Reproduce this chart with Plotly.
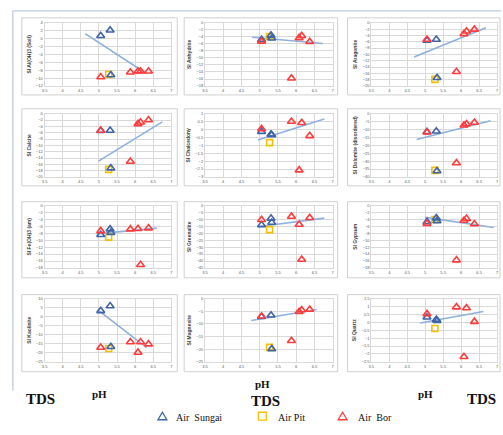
import plotly.graph_objects as go

# ---------------- data ----------------
minerals = ["SI Al(OH)3 (Soil)", "SI Anhydrite", "SI Aragonite",
            "SI Calcite", "SI Chalcedony", "SI Dolomite (disordered)",
            "SI Fe(OH)3 (am)", "SI Greenalite", "SI Gypsum",
            "SI Kaolinite", "SI Magnesite", "SI Quartz"]

ph_sungai = [5.05, 5.31, 5.33]
ph_pit = [5.27]
ph_bor = [5.05, 5.87, 6.08, 6.15, 6.37]

si_sungai = [
    [0.7, 2.1, -9.2],
    [-4.8, -3.6, -4.4],
    [-5.6, -5.3, -17.4],
    [-5.4, -5.3, -17.2],
    [-0.13, -0.3, -0.34],
    [-11.5, -11.1, -36.2],
    [-8.4, -6.8, -7.8],
    [-13.9, -9.2, -12.2],
    [-4.7, -3.6, -4.4],
    [3.2, 5.9, -16.7],
    [-7.2, -6.6, -19.9],
    [0.32, 0.17, 0.1],
]
si_pit = [[-9.1], [-3.9], [-17.9], [-17.6], [-0.83], [-35.8],
          [-9.1], [-17.3], [-4.0], [-17.6], [-19.3], [-0.39]]
si_bor = [
    [-9.7, -8.5, -8.25, -8.25, -8.25],
    [-5.3, -15.8, -4.3, -3.7, -5.4],
    [-5.3, -15.5, -3.5, -2.7, -2.1],
    [-5.3, -15.1, -3.2, -2.7, -2.0],
    [0.04, 0.51, -2.57, 0.43, -0.4],
    [-11.7, -31.2, -7.3, -6.5, -5.6],
    [-7.3, -6.8, -6.7, -17.1, -6.5],
    [-10.2, -7.8, -13.6, -38.9, -8.8],
    [-5.2, -15.75, -4.3, -3.75, -5.3],
    [-17.1, -14.0, -19.8, -14.0, -15.2],
    [-7.0, -16.7, -5.2, -4.5, -4.3],
    [0.53, 0.96, -2.18, 0.9, 0.04],
]
trend_x = [[4.62, 6.32], [4.79, 6.73], [4.69, 6.69], [4.99, 6.75],
           [4.95, 6.77], [4.76, 6.82], [4.94, 6.60], [4.95, 6.77],
           [5.00, 6.91], [4.97, 6.32], [4.77, 6.56], [4.86, 6.62]]
trend_y = [[1.25, -8.9], [-4.1, -5.9], [-10.8, -1.6], [-15.0, -2.6],
           [-0.66, 0.66], [-16.3, -4.4], [-8.15, -6.5], [-15.3, -9.0],
           [-3.4, -6.3], [3.7, -17.1], [-8.7, -4.3], [-0.05, 0.68]]
y_ranges = [[-12, 4], [-18, 0], [-20, 0], [-20, 0], [-3, 1], [-40, 0],
            [-18, 0], [-45, 0], [-18, 0], [-25, 10], [-25, 0], [-2.5, 1.5]]
y_dticks = [2, 2, 2, 2, 0.5, 5, 2, 5, 2, 5, 5, 0.5]
x_range = [3.5, 7]
x_dtick = 0.5

# ---------------- layout helpers ----------------
W, H = 503, 435
def PX(x): return x / W
def PY(y): return 1 - y / H

col_plot = [(42, 170), (204, 333), (372, 499)]
row_plot = [(20, 84), (112, 176), (205, 268), (299, 363)]
col_box = [(19, 176), (183, 338), (348, 502)]
row_box = [(15, 93), (107, 185), (201, 278), (295, 373)]

BLUE = "#3f64a8"
YELLOW = "#f5c000"
RED = "#ff3b3b"
TREND = "#8eb0dc"
GRID = "#d9d9d9"

fig = go.Figure()
shapes = []
layout = {}
for i in range(12):
    r, c = divmod(i, 3)
    xs = "x" if i == 0 else f"x{i+1}"
    ys = "y" if i == 0 else f"y{i+1}"
    xk = "xaxis" if i == 0 else f"xaxis{i+1}"
    yk = "yaxis" if i == 0 else f"yaxis{i+1}"

    fig.add_trace(go.Scatter(x=trend_x[i], y=trend_y[i], mode="lines",
                             line=dict(color=TREND, width=1.6),
                             xaxis=xs, yaxis=ys, showlegend=False, hoverinfo="skip"))
    fig.add_trace(go.Scatter(x=ph_pit, y=si_pit[i], mode="markers",
                             marker=dict(symbol="square-open", size=6,
                                         line=dict(color=YELLOW, width=1.6), color=YELLOW),
                             xaxis=xs, yaxis=ys, showlegend=False))
    fig.add_trace(go.Scatter(x=ph_sungai, y=si_sungai[i], mode="markers",
                             marker=dict(symbol="triangle-up-open", size=7,
                                         line=dict(color=BLUE, width=1.6), color=BLUE),
                             xaxis=xs, yaxis=ys, showlegend=False))
    fig.add_trace(go.Scatter(x=ph_bor, y=si_bor[i], mode="markers",
                             marker=dict(symbol="triangle-up-open", size=7,
                                         line=dict(color=RED, width=1.6), color=RED),
                             xaxis=xs, yaxis=ys, showlegend=False))

    layout[xk] = dict(domain=[PX(col_plot[c][0]), PX(col_plot[c][1])],
                      range=x_range, dtick=x_dtick, tick0=3.5,
                      showgrid=True, gridcolor=GRID, gridwidth=1,
                      zeroline=False, showline=True, linecolor=GRID, mirror=True,
                      ticks="", tickfont=dict(size=4, color="#595959"),
                      anchor=ys, fixedrange=True)
    layout[yk] = dict(domain=[PY(row_plot[r][1]), PY(row_plot[r][0])],
                      range=y_ranges[i], dtick=y_dticks[i],
                      showgrid=True, gridcolor=GRID, gridwidth=1,
                      zeroline=False, showline=True, linecolor=GRID, mirror=True,
                      ticks="", tickfont=dict(size=4, color="#595959"),
                      title=dict(text="<b>" + minerals[i] + "</b>",
                                 font=dict(size=5, color="#404040"), standoff=4),
                      anchor=xs, fixedrange=True)

    shapes.append(dict(type="rect", xref="paper", yref="paper",
                       x0=PX(col_box[c][0]), x1=PX(col_box[c][1]),
                       y0=PY(row_box[r][1]), y1=PY(row_box[r][0]),
                       line=dict(color="#d0d0d0", width=1), fillcolor="white",
                       layer="below"))

# outer frame lines
shapes.append(dict(type="line", xref="paper", yref="paper",
                   x0=PX(10), x1=PX(10), y0=PY(392), y1=PY(8),
                   line=dict(color="#a9bcd6", width=1)))
shapes.append(dict(type="line", xref="paper", yref="paper",
                   x0=PX(10), x1=1, y0=PY(8), y1=PY(8),
                   line=dict(color="#a9bcd6", width=1)))

# legend symbols
def tri(cx, cy, s=4.5):
    return (f"M {PX(cx-s)} {PY(cy+s*0.8)} L {PX(cx+s)} {PY(cy+s*0.8)} "
            f"L {PX(cx)} {PY(cy-s*0.9)} Z")
shapes.append(dict(type="path", xref="paper", yref="paper", path=tri(161, 418),
                   line=dict(color=BLUE, width=1.3)))
shapes.append(dict(type="rect", xref="paper", yref="paper",
                   x0=PX(258), x1=PX(266), y0=PY(422), y1=PY(414),
                   line=dict(color=YELLOW, width=1.3)))
shapes.append(dict(type="path", xref="paper", yref="paper", path=tri(343, 418),
                   line=dict(color=RED, width=1.3)))

serif = "Liberation Serif"
annotations = []
def txt(text, x, y, size, bold=False):
    annotations.append(dict(text=("<b>" + text + "</b>") if bold else text,
                            x=PX(x), y=PY(y), xref="paper", yref="paper",
                            showarrow=False, xanchor="center", yanchor="middle",
                            font=dict(family=serif, size=size, color="#111111")))

txt("Air\u00a0\u00a0Sungai", 198, 419, 10)
txt("Air\u00a0Pit", 291, 419, 10)
txt("Air\u00a0\u00a0Bor", 376, 419, 10)
txt("TDS", 38, 401, 15, True)
txt("pH", 97, 396, 11, True)
txt("TDS", 265, 403, 15, True)
txt("pH", 262, 385, 11, True)
txt("pH", 427, 396, 11, True)
txt("TDS", 483, 401, 15, True)

fig.update_layout(width=W, height=H, margin=dict(l=0, r=0, t=0, b=0),
                  paper_bgcolor="white", plot_bgcolor="white",
                  showlegend=False, shapes=shapes, annotations=annotations,
                  font=dict(family="Liberation Sans"), **layout)

fig.write_html("out.html")
